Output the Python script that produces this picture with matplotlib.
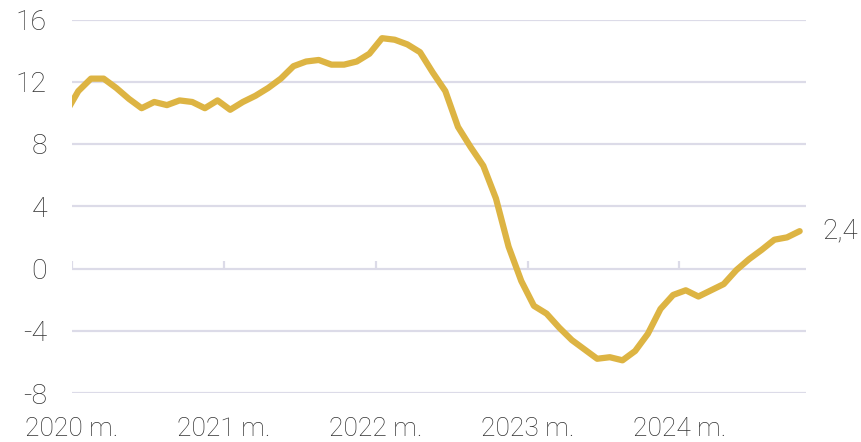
import matplotlib
matplotlib.use("Agg")
import matplotlib.pyplot as plt
import numpy as np

# Monthly values, Dec 2019 .. Oct 2024 (points placed mid-month)
values = [
    10.0,
    11.4, 12.2, 12.2, 11.6, 10.9, 10.3, 10.7, 10.5, 10.8, 10.7, 10.3, 10.8,
    10.2, 10.7, 11.1, 11.6, 12.2, 13.0, 13.3, 13.4, 13.1, 13.1, 13.3, 13.8,
    14.8, 14.7, 14.4, 13.9, 12.6, 11.4, 9.1, 7.8, 6.6, 4.5, 1.4, -0.8,
    -2.4, -2.9, -3.8, -4.6, -5.2, -5.8, -5.7, -5.9, -5.3, -4.2, -2.6, -1.7,
    -1.4, -1.8, -1.4, -1.0, -0.1, 0.6, 1.2, 1.85, 2.0, 2.4,
]
year_labels = ["2020 m.", "2021 m.", "2022 m.", "2023 m.", "2024 m."]
y_ticks = [-8, -4, 0, 4, 8, 12, 16]
end_label = "2,4"

LINE = "#DDB443"
GRID = "#DCDBE8"
TEXT = "#333333"

plt.rcParams["font.family"] = ["Roboto", "DejaVu Sans"]
plt.rcParams["font.weight"] = "light"

fig = plt.figure(figsize=(8.61, 4.42), dpi=100)
ax = fig.add_axes([72 / 861, 1 - 393 / 442, (806 - 72) / 861, (393 - 19.5) / 442])

# months since Jan 2020, mid-month positions
x = np.arange(len(values)) - 1 + 0.5
ax.plot(x, values, color=LINE, lw=4.5, solid_capstyle="round", solid_joinstyle="round", zorder=3)

ax.set_xlim(0, 58)
ax.set_ylim(-8, 16)
ax.set_yticks(y_ticks)
ax.set_yticklabels([str(v) for v in y_ticks])
year_pos = [12 * i for i in range(len(year_labels))]
ax.set_xticks(year_pos)
ax.set_xticklabels(year_labels)

for s in ax.spines.values():
    s.set_visible(False)
ax.yaxis.grid(True, color=GRID, lw=1.6)
ax.set_axisbelow(True)
ax.tick_params(axis="y", length=0, pad=18, labelsize=20.5, labelcolor=TEXT)
ax.tick_params(axis="x", length=0, pad=17, labelsize=19, labelcolor=TEXT)

# small tick marks on the zero line
ax.vlines(year_pos, 0, 0.45, color=GRID, lw=1.6, zorder=2)

ax.annotate(end_label, xy=(x[-1], values[-1]), xytext=(16, 0), textcoords="offset points",
            va="center", ha="left", fontsize=20, color=TEXT, annotation_clip=False)

fig.savefig("out.png", dpi=100)
